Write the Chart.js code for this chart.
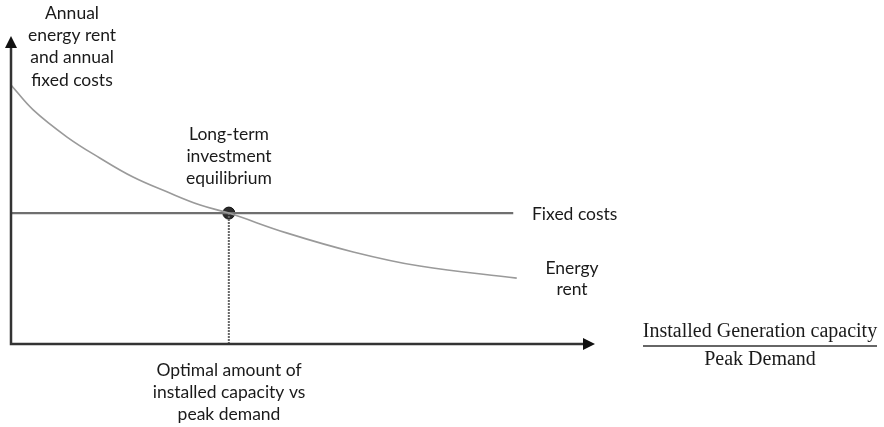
<!DOCTYPE html>
<html>
<head>
<meta charset="utf-8">
<script src="https://cdn.jsdelivr.net/npm/chart.js@4.4.0/dist/chart.umd.min.js"></script>
<style>
  html, body { margin: 0; padding: 0; background: #fff; }
  #wrap { width: 884px; height: 427px; }
</style>
</head>
<body>
<div id="wrap"><canvas id="grafico" width="884" height="427"></canvas></div>
<script>
// Curva della rendita energetica
var rentX = [0, 3.8, 9.6, 15.2, 20.9, 26.7, 32.4, 37.3, 47.3, 58.6, 70.0, 86.6];
var rentY = [84.1, 76.0, 67.2, 60.4, 54.2, 49.4, 45.1, 42.5, 36.0, 29.9, 25.3, 21.4];
// Costi fissi: linea orizzontale
var fixedX = [0, 86.0];
var fixedY = [42.5, 42.5];
// Punto di equilibrio
var eqX = [37.3];
var eqY = [42.5];

function punti(xs, ys) {
  return xs.map(function (x, i) { return { x: x, y: ys[i] }; });
}

// Assi con frecce ed etichette di testo
var disegno = {
  id: 'disegno',
  afterDatasetsDraw: function (chart) {
    var ctx = chart.ctx;
    var sx = chart.scales.x, sy = chart.scales.y;
    var x0 = sx.getPixelForValue(0), y0 = sy.getPixelForValue(0);
    var xEnd = sx.getPixelForValue(100), yEnd = sy.getPixelForValue(100);
    ctx.save();
    ctx.strokeStyle = '#333';
    ctx.fillStyle = '#111';
    ctx.lineWidth = 2.5;
    ctx.beginPath();
    ctx.moveTo(x0, yEnd + 8);
    ctx.lineTo(x0, y0);
    ctx.lineTo(xEnd - 8, y0);
    ctx.stroke();
    // freccia verticale
    ctx.beginPath();
    ctx.moveTo(x0, yEnd);
    ctx.lineTo(x0 - 6, yEnd + 12);
    ctx.lineTo(x0 + 6, yEnd + 12);
    ctx.closePath();
    ctx.fill();
    // freccia orizzontale
    ctx.beginPath();
    ctx.moveTo(xEnd, y0);
    ctx.lineTo(xEnd - 12, y0 - 6);
    ctx.lineTo(xEnd - 12, y0 + 6);
    ctx.closePath();
    ctx.fill();

    ctx.fillStyle = '#1a1a1a';
    ctx.textAlign = 'center';
    ctx.textBaseline = 'middle';
    ctx.font = '17.5px Lato';
    var righe = function (testi, cx, cy, passo) {
      testi.forEach(function (t, i) { ctx.fillText(t, cx, cy + i * passo); });
    };
    righe(['Annual', 'energy rent', 'and annual', 'fixed costs'], 72, 13, 22.3);
    righe(['Long-term', 'investment', 'equilibrium'], 229, 134, 22);
    righe(['Energy', 'rent'], 572, 268, 21);
    righe(['Optimal amount of', 'installed capacity vs', 'peak demand'], 229, 370, 22);
    ctx.textAlign = 'left';
    ctx.fillText('Fixed costs', 532, 214);

    // frazione capacità / domanda di picco
    ctx.textAlign = 'center';
    ctx.font = '20px "Liberation Serif"';
    ctx.fillText('Installed Generation capacity', 760, 332);
    ctx.fillText('Peak Demand', 760, 360);
    ctx.strokeStyle = '#333';
    ctx.lineWidth = 1.5;
    ctx.beginPath();
    ctx.moveTo(643, 346);
    ctx.lineTo(877, 346);
    ctx.stroke();
    ctx.restore();
  }
};

const grafico = new Chart(
  document.getElementById('grafico'),
  {
    type: 'scatter',
    data: {
      datasets: [
        {
          label: 'Energy rent',
          data: punti(rentX, rentY),
          showLine: true,
          tension: 0.4,
          borderColor: '#9a9a9a',
          borderWidth: 1.6,
          pointRadius: 0
        },
        {
          label: 'Fixed costs',
          data: punti(fixedX, fixedY),
          showLine: true,
          borderColor: '#6f6f6f',
          borderWidth: 2.2,
          pointRadius: 0
        },
        {
          label: 'Optimal',
          data: [{ x: eqX[0], y: 0 }, { x: eqX[0], y: eqY[0] }],
          showLine: true,
          borderColor: '#666',
          borderWidth: 2,
          borderDash: [2, 1],
          pointRadius: 0
        },
        {
          label: 'Equilibrium',
          data: punti(eqX, eqY),
          pointRadius: 6,
          pointBackgroundColor: '#2b2b2b',
          pointBorderColor: '#111',
          pointBorderWidth: 1
        }
      ]
    },
    options: {
      responsive: false,
      animation: false,
      layout: { padding: { left: 11, right: 289, top: 36, bottom: 83 } },
      plugins: { legend: { display: false }, tooltip: { enabled: false } },
      scales: {
        x: { type: 'linear', min: 0, max: 100, display: false },
        y: { type: 'linear', min: 0, max: 100, display: false }
      }
    },
    plugins: [disegno]
  }
);
</script>
</body>
</html>
